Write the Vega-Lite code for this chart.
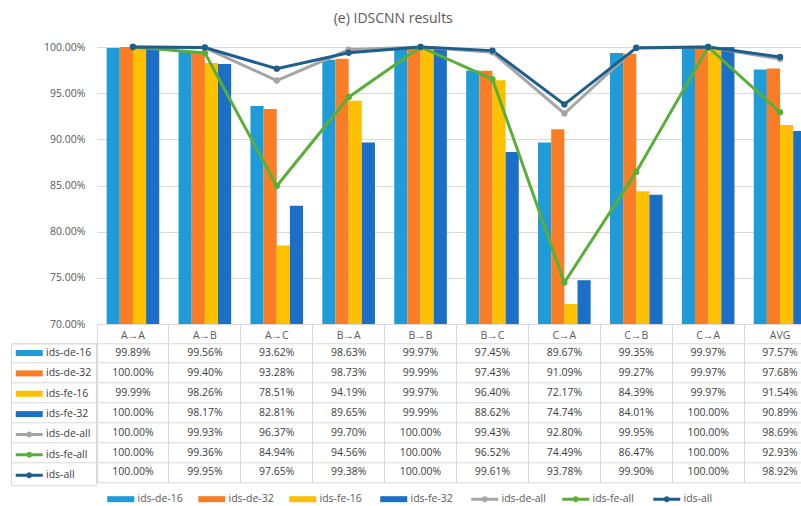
{
  "$schema": "https://vega.github.io/schema/vega-lite/v6.json",
  "padding": {"left": 10, "top": 12, "right": 0, "bottom": 0},
  "title": {"text": "(e) IDSCNN results", "fontSize": 14, "fontWeight": "normal", "color": "#595959", "font": "Open Sans", "anchor": "middle", "offset": 15, "dx": -20},
  "config": {
    "font": "Open Sans",
    "view": {"stroke": null},
    "axis": {"labelFont": "Open Sans"},
    "legend": {"labelFont": "Open Sans"}
  },
  "datasets": {
    "t": [
      {"col": 1, "series": "ids-de-16", "value": 0.9989}, {"col": 2, "series": "ids-de-16", "value": 0.9956}, {"col": 3, "series": "ids-de-16", "value": 0.9362}, {"col": 4, "series": "ids-de-16", "value": 0.9863}, {"col": 5, "series": "ids-de-16", "value": 0.9997}, {"col": 6, "series": "ids-de-16", "value": 0.9745}, {"col": 7, "series": "ids-de-16", "value": 0.8967}, {"col": 8, "series": "ids-de-16", "value": 0.9935}, {"col": 9, "series": "ids-de-16", "value": 0.9997}, {"col": 10, "series": "ids-de-16", "value": 0.9757},
      {"col": 1, "series": "ids-de-32", "value": 1.0}, {"col": 2, "series": "ids-de-32", "value": 0.994}, {"col": 3, "series": "ids-de-32", "value": 0.9328}, {"col": 4, "series": "ids-de-32", "value": 0.9873}, {"col": 5, "series": "ids-de-32", "value": 0.9999}, {"col": 6, "series": "ids-de-32", "value": 0.9743}, {"col": 7, "series": "ids-de-32", "value": 0.9109}, {"col": 8, "series": "ids-de-32", "value": 0.9927}, {"col": 9, "series": "ids-de-32", "value": 0.9997}, {"col": 10, "series": "ids-de-32", "value": 0.9768},
      {"col": 1, "series": "ids-fe-16", "value": 0.9999}, {"col": 2, "series": "ids-fe-16", "value": 0.9826}, {"col": 3, "series": "ids-fe-16", "value": 0.7851}, {"col": 4, "series": "ids-fe-16", "value": 0.9419}, {"col": 5, "series": "ids-fe-16", "value": 0.9997}, {"col": 6, "series": "ids-fe-16", "value": 0.964}, {"col": 7, "series": "ids-fe-16", "value": 0.7217}, {"col": 8, "series": "ids-fe-16", "value": 0.8439}, {"col": 9, "series": "ids-fe-16", "value": 0.9997}, {"col": 10, "series": "ids-fe-16", "value": 0.9154},
      {"col": 1, "series": "ids-fe-32", "value": 1.0}, {"col": 2, "series": "ids-fe-32", "value": 0.9817}, {"col": 3, "series": "ids-fe-32", "value": 0.8281}, {"col": 4, "series": "ids-fe-32", "value": 0.8965}, {"col": 5, "series": "ids-fe-32", "value": 0.9999}, {"col": 6, "series": "ids-fe-32", "value": 0.8862}, {"col": 7, "series": "ids-fe-32", "value": 0.7474}, {"col": 8, "series": "ids-fe-32", "value": 0.8401}, {"col": 9, "series": "ids-fe-32", "value": 1.0}, {"col": 10, "series": "ids-fe-32", "value": 0.9089},
      {"col": 1, "series": "ids-de-all", "value": 1.0}, {"col": 2, "series": "ids-de-all", "value": 0.9993}, {"col": 3, "series": "ids-de-all", "value": 0.9637}, {"col": 4, "series": "ids-de-all", "value": 0.997}, {"col": 5, "series": "ids-de-all", "value": 1.0}, {"col": 6, "series": "ids-de-all", "value": 0.9943}, {"col": 7, "series": "ids-de-all", "value": 0.928}, {"col": 8, "series": "ids-de-all", "value": 0.9995}, {"col": 9, "series": "ids-de-all", "value": 1.0}, {"col": 10, "series": "ids-de-all", "value": 0.9869},
      {"col": 1, "series": "ids-fe-all", "value": 1.0}, {"col": 2, "series": "ids-fe-all", "value": 0.9936}, {"col": 3, "series": "ids-fe-all", "value": 0.8494}, {"col": 4, "series": "ids-fe-all", "value": 0.9456}, {"col": 5, "series": "ids-fe-all", "value": 1.0}, {"col": 6, "series": "ids-fe-all", "value": 0.9652}, {"col": 7, "series": "ids-fe-all", "value": 0.7449}, {"col": 8, "series": "ids-fe-all", "value": 0.8647}, {"col": 9, "series": "ids-fe-all", "value": 1.0}, {"col": 10, "series": "ids-fe-all", "value": 0.9293},
      {"col": 1, "series": "ids-all", "value": 1.0}, {"col": 2, "series": "ids-all", "value": 0.9995}, {"col": 3, "series": "ids-all", "value": 0.9765}, {"col": 4, "series": "ids-all", "value": 0.9938}, {"col": 5, "series": "ids-all", "value": 1.0}, {"col": 6, "series": "ids-all", "value": 0.9961}, {"col": 7, "series": "ids-all", "value": 0.9378}, {"col": 8, "series": "ids-all", "value": 0.999}, {"col": 9, "series": "ids-all", "value": 1.0}, {"col": 10, "series": "ids-all", "value": 0.9892}
    ]
  },
  "bounds": "flush",
  "spacing": 19.3,
  "resolve": {"scale": {"color": "shared"}, "legend": {"color": "independent"}},
  "vconcat": [
    {
      "width": 719,
      "height": 277,
      "data": {"name": "t"},
      "layer": [
        {
          "transform": [{"filter": {"field": "series", "oneOf": ["ids-de-16", "ids-de-32", "ids-fe-16", "ids-fe-32"]}}],
          "mark": {"type": "bar"},
          "encoding": {
            "x": {
              "field": "col", "type": "ordinal",
              "scale": {"paddingInner": 0, "paddingOuter": 0},
              "axis": {"bandPosition": 0, "domain": true, "domainColor": "#d9d9d9", "ticks": true, "tickSize": 19.3, "tickColor": "#d9d9d9", "grid": false,
                "labelExpr": "['A→A','A→B','A→C','B→A','B→B','B→C','C→A','C→B','C→A','AVG'][datum.value-1]",
                "labelPadding": -8, "labelBaseline": "middle", "labelAlign": "center", "labelAngle": 0, "labelFontSize": 10.5, "labelColor": "#595959", "labelOverlap": false, "title": null}
            },
            "xOffset": {"field": "series", "type": "nominal", "sort": ["ids-de-16", "ids-de-32", "ids-fe-16", "ids-fe-32"], "scale": {"paddingInner": 0, "paddingOuter": 0.733}},
            "y": {
              "field": "value", "type": "quantitative",
              "scale": {"domain": [0.7, 1], "zero": false, "nice": false},
              "axis": {"values": [0.7, 0.75, 0.8, 0.85, 0.9, 0.95, 1], "format": ".2%", "domain": false, "ticks": false, "labelPadding": 12, "labelFontSize": 10.5, "labelColor": "#595959", "gridColor": "#d9d9d9", "title": null}
            },
            "y2": {"datum": 0.7},
            "color": {
              "field": "series", "type": "nominal",
              "scale": {"domain": ["ids-de-16", "ids-de-32", "ids-fe-16", "ids-fe-32", "ids-de-all", "ids-fe-all", "ids-all"], "range": ["#1f9bd7", "#fb7e26", "#ffc000", "#1b6fc6", "#a5a5a5", "#5aaf38", "#1d5e8c"]},
              "legend": {
                "orient": "none", "legendX": -86, "legendY": 296.3, "direction": "vertical", "title": null,
                "padding": 4.5, "strokeColor": "#d9d9d9", "rowPadding": 9.35,
                "symbolSize": 100, "labelOffset": 20, "labelFontSize": 10.5, "labelColor": "#404040",
                "encoding": {"symbols": {
                  "shape": {"value": {"expr": "indexof(['ids-de-all','ids-fe-all','ids-all'], datum.value) >= 0 ? 'M-1,-0.3H4.4V0.3H-1Z M2.3,0A0.6,0.6,0,1,1,1.1,0A0.6,0.6,0,1,1,2.3,0Z' : 'M-1,-0.6H4.4V0.6H-1Z'"}},
                  "opacity": {"value": 1},
                  "strokeWidth": {"value": 0}
                }}
              }
            }
          }
        },
        {
          "transform": [{"filter": {"field": "series", "oneOf": ["ids-de-all", "ids-fe-all", "ids-all"]}}],
          "mark": {"type": "line", "strokeWidth": 3},
          "encoding": {
            "x": {"field": "col", "type": "ordinal"},
            "y": {"field": "value", "type": "quantitative"},
            "color": {"field": "series", "type": "nominal"}
          }
        },
        {
          "transform": [{"filter": {"field": "series", "oneOf": ["ids-de-all", "ids-fe-all", "ids-all"]}}],
          "mark": {"type": "point", "filled": true, "size": 40, "opacity": 1},
          "encoding": {
            "x": {"field": "col", "type": "ordinal"},
            "y": {"field": "value", "type": "quantitative"},
            "color": {"field": "series", "type": "nominal"}
          }
        }
      ]
    },
    {
      "width": 719,
      "height": 139,
      "data": {"name": "t"},
      "encoding": {
        "x": {
          "field": "col", "type": "ordinal",
          "scale": {"paddingInner": 0, "paddingOuter": 0},
          "axis": {"bandPosition": 0, "labels": false, "ticks": false, "grid": true, "gridColor": "#d9d9d9", "domain": true, "domainColor": "#d9d9d9", "title": null}
        },
        "y": {
          "field": "series", "type": "nominal",
          "sort": ["ids-de-16", "ids-de-32", "ids-fe-16", "ids-fe-32", "ids-de-all", "ids-fe-all", "ids-all"],
          "scale": {"paddingInner": 0, "paddingOuter": 0},
          "axis": {"bandPosition": 0, "labels": false, "ticks": true, "tickSize": 86, "tickColor": "#d9d9d9", "grid": true, "gridColor": "#d9d9d9", "domain": true, "domainColor": "#d9d9d9", "title": null}
        }
      },
      "layer": [
        {
          "mark": {"type": "bar", "opacity": 0},
          "encoding": {
            "color": {
              "field": "series", "type": "nominal",
              "legend": {
                "orient": "none", "legendX": 10, "legendY": 150.5, "direction": "horizontal", "columns": 7, "gridAlign": "all", "columnPadding": 15, "title": null, "padding": 0,
                "symbolSize": 100, "labelOffset": 20, "labelFontSize": 10.5, "labelColor": "#595959",
                "encoding": {"symbols": {
                  "shape": {"value": {"expr": "indexof(['ids-de-all','ids-fe-all','ids-all'], datum.value) >= 0 ? 'M-1,-0.3H4.4V0.3H-1Z M2.3,0A0.6,0.6,0,1,1,1.1,0A0.6,0.6,0,1,1,2.3,0Z' : 'M-1,-0.6H4.4V0.6H-1Z'"}},
                  "opacity": {"value": 1},
                  "strokeWidth": {"value": 0}
                }}
              }
            }
          }
        },
        {
          "mark": {"type": "text", "fontSize": 10.5, "color": "#404040", "font": "Open Sans"},
          "encoding": {
            "text": {"field": "value", "type": "quantitative", "format": ".2%"}
          }
        }
      ]
    }
  ]
}
